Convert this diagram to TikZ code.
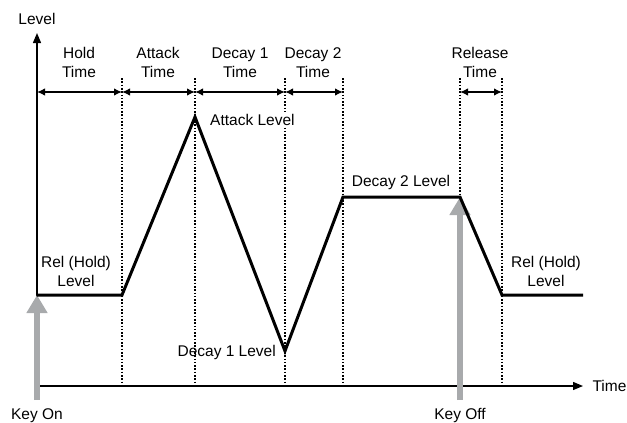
\documentclass[tikz,border=0pt]{standalone}
\usepackage{fontspec}
\setmainfont{Liberation Sans}
\usetikzlibrary{arrows.meta,positioning}
\definecolor{keygray}{RGB}{168,170,172}

\begin{document}
\begin{tikzpicture}[
  x=1pt, y=-1pt,
  font=\fontsize{15.5}{19}\selectfont,
  lbl/.style={align=center, inner sep=1pt},
  axis/.style={-{Triangle[length=10pt, width=8pt]}, line width=1.3pt},
  guide/.style={line width=1.8pt, dash pattern=on 1.6pt off 1.7pt},
  span/.style={{Latex[length=8pt, width=7.5pt]}-{Latex[length=8pt, width=7.5pt]}, line width=1.3pt},
  env/.style={line width=3pt, line join=miter},
  key/.style={-{Triangle[length=18pt, width=20pt]}, line width=5.5pt, draw=keygray}
]
\useasboundingbox (0,0) rectangle (627,423);

% axes
\coordinate (origin) at (37,386);
\coordinate (ytop) at (37,33);
\coordinate (xend) at (583,386);
\draw[axis] (origin) -- (ytop);
\draw[axis] (origin) -- (xend);
\node[anchor=base] (level) at (37,24) {Level};
\node[anchor=base west] (time) at (589,391) {Time};

% boundaries
\coordinate (b0) at (37,92);
\coordinate (b1) at (122,92);
\coordinate (b2) at (195,92);
\coordinate (b3) at (285,92);
\coordinate (b4) at (343,92);
\coordinate (b5) at (460,92);
\coordinate (b6) at (502,92);
\draw[guide] (122,78) -- (122,386);
\draw[guide] (195,78) -- (195,386);
\draw[guide] (285,78) -- (285,386);
\draw[guide] (343,78) -- (343,386);
\draw[guide] (460,78) -- (460,386);
\draw[guide] (502,78) -- (502,386);

\draw[span] (b0) -- (b1);
\draw[span] (b1) -- (b2);
\draw[span] (b2) -- (b3);
\draw[span] (b3) -- (b4);
\draw[span] (b5) -- (b6);

\node[lbl, anchor=south] (hold) at (79,79) {Hold\\Time};
\node[lbl, anchor=south] (attack) at (158,79) {Attack\\Time};
\node[lbl, anchor=south] (decay1) at (240,79) {Decay 1\\Time};
\node[lbl, anchor=south] (decay2) at (313,79) {Decay 2\\Time};
\node[lbl, anchor=south] (release) at (480,79) {Release\\Time};

% key arrows
\coordinate (p0) at (37,295);
\coordinate (p5) at (460,197);
\coordinate (onbase) at (37,400);
\coordinate (offbase) at (460,400);
\draw[key] (onbase) -- (p0);
\draw[key] (offbase) -- (p5);
\node[anchor=base] (keyon) at (37,419) {Key On};
\node[anchor=base] (keyoff) at (460,419) {Key Off};

% envelope
\coordinate (p1) at (122,295);
\coordinate (p2) at (195,117);
\coordinate (p3) at (285,351);
\coordinate (p4) at (343,197);
\coordinate (p6) at (502,295);
\coordinate (p7) at (583,295);
\draw[env] (p0) -- (p1) -- (p2) -- (p3) -- (p4) -- (p5) -- (p6) -- (p7);

\node[anchor=base west, fill=white, inner sep=2pt] (atklevel) at (208,125) {Attack Level};
\node[anchor=base east, inner sep=1pt] (d1level) at (277,356) {Decay 1 Level};
\node[anchor=base, inner sep=1pt] (d2level) at (401,186) {Decay 2 Level};
\node[lbl, anchor=south] (relleft) at (76,288) {Rel (Hold)\\Level};
\node[lbl, anchor=south] (relright) at (546,288) {Rel (Hold)\\Level};

\end{tikzpicture}
\end{document}
